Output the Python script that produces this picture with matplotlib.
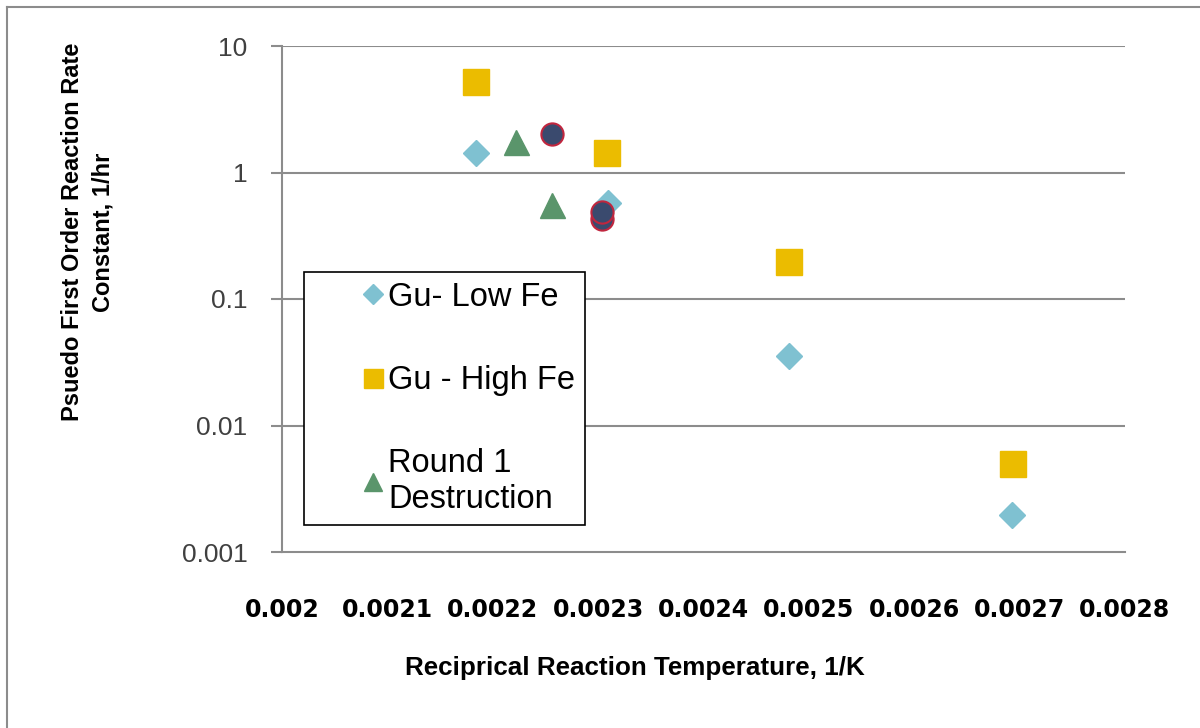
import matplotlib
matplotlib.use("Agg")
import matplotlib.pyplot as plt
from matplotlib.lines import Line2D

# data
low_x = [0.002184, 0.002309, 0.002481, 0.002693]
low_y = [1.43, 0.57, 0.0355, 0.00196]

high_x = [0.002184, 0.002308, 0.002481, 0.002694]
high_y = [5.2, 1.43, 0.196, 0.00497]

round1_x = [0.002222, 0.002256]
round1_y = [1.74, 0.553]

extra_x = [0.002256, 0.002304, 0.002304]
extra_y = [2.0, 0.43, 0.487]

xticks = [0.002, 0.0021, 0.0022, 0.0023, 0.0024, 0.0025, 0.0026, 0.0027, 0.0028]
xticklabels = ["0.002", "0.0021", "0.0022", "0.0023", "0.0024", "0.0025", "0.0026", "0.0027", "0.0028"]
yticks = [0.001, 0.01, 0.1, 1, 10]
yticklabels = ["0.001", "0.01", "0.1", "1", "10"]

plt.rcParams['font.family'] = ['Liberation Sans', 'DejaVu Sans']

fig = plt.figure(figsize=(12, 7.28), dpi=100)
ax = fig.add_axes([282/1200, 1-552/728, (1125-282)/1200, (552-46)/728])

ax.set_yscale('log')
ax.set_xlim(0.002, 0.0028)
ax.set_ylim(0.001, 10)

for yv in yticks[1:]:
	ax.axhline(yv, color='#8c8c8c', lw=1.5, zorder=0)

ax.plot(low_x, low_y, 'D', ms=13.5, color='#7fc1d1', mec='#7fc1d1', label='Gu- Low Fe', zorder=3)
ax.plot(high_x, high_y, 's', ms=19, color='#ebbc00', mec='#ebbc00', label='Gu - High Fe', zorder=3)
ax.plot(round1_x, round1_y, '^', ms=18, color='#5a956b', mec='#5a956b', label='Round 1\nDestruction', zorder=3)
ax.plot(extra_x, extra_y, 'o', ms=16, color='#3a4a6e', mec='#c0263e', mew=1.5, zorder=4)

for s in ['top', 'right']:
	ax.spines[s].set_visible(False)
for s in ['left', 'bottom']:
	ax.spines[s].set_color('#8c8c8c')
	ax.spines[s].set_linewidth(1.5)

ax.set_yticks(yticks)
ax.set_yticklabels(yticklabels, fontsize=19, color='#404040')
ax.minorticks_off()
ax.tick_params(axis='y', length=8, width=1.5, color='#8c8c8c', pad=17)
ax.set_xticks(xticks)
ax.set_xticklabels(xticklabels, fontsize=17, fontweight='bold', family='DejaVu Sans')
ax.tick_params(axis='x', length=0, pad=33)

fig.text(635/1200, 1-668/728, "Reciprical Reaction Temperature, 1/K", ha='center', va='center',
	fontsize=18.7, fontweight='bold')
fig.text(88/1200, 1-232/728, "Psuedo First Order Reaction Rate\nConstant, 1/hr", ha='center', va='center',
	rotation=90, fontsize=17, fontweight='bold', linespacing=1.4)

leg = ax.legend(loc='upper left', bbox_to_anchor=(304/1200, 1-272/728), bbox_transform=fig.transFigure,
	fontsize=23.5, markerscale=0.72, handlelength=3.65, handletextpad=-1.38, borderpad=0.3,
	borderaxespad=0, labelspacing=1.6, fancybox=False, framealpha=1, edgecolor='black')
leg.get_frame().set_linewidth(1.2)

# outer chart border
fig.add_artist(Line2D([7/1200, 7/1200], [0, 1-7/728], transform=fig.transFigure, color='#8c8c8c', lw=1.5))
fig.add_artist(Line2D([7/1200, 1], [1-7/728, 1-7/728], transform=fig.transFigure, color='#8c8c8c', lw=1.5))

fig.savefig('out.png', dpi=100)
